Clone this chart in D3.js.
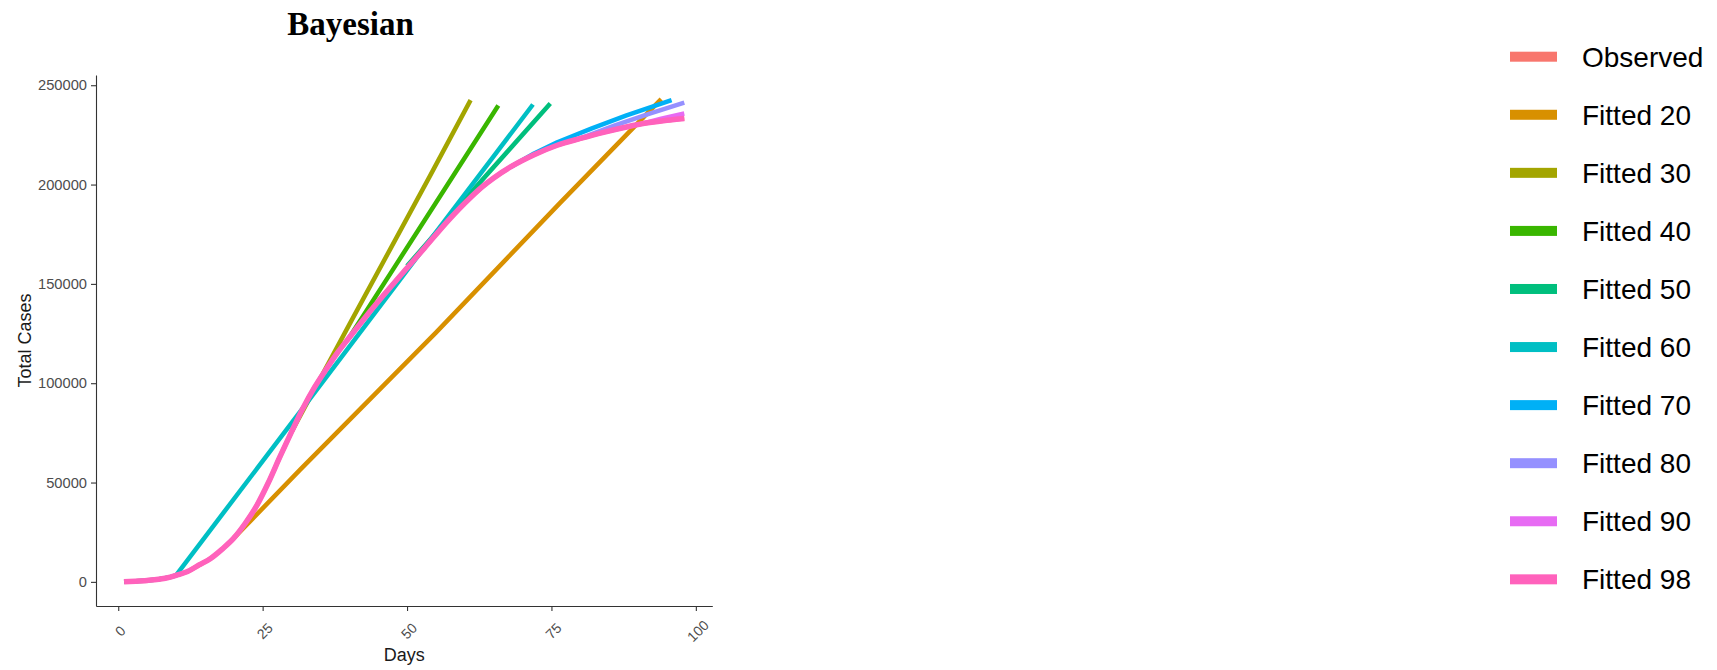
<!DOCTYPE html>
<html>
<head>
<meta charset="utf-8">
<script src="https://cdn.jsdelivr.net/npm/d3@7"></script>
<style>
  html, body { margin: 0; padding: 0; background: #ffffff; }
  svg { display: block; }
</style>
</head>
<body>
<svg id="chart" width="1717" height="670"></svg>
<script>
// Cumulative observed cases by day
const observedDays  = [1, 3, 5, 7, 9, 10, 12, 14, 16, 18, 20, 22, 24, 26, 28, 30, 32, 34, 36, 38, 40, 43, 46, 50, 53, 57, 61, 63, 65, 68, 72, 76, 80, 84, 88, 92, 95, 98];
const observedCases = [0, 300, 700, 1300, 2400, 3300, 5200, 8500, 11800, 16500, 22000, 29500, 38500, 50000, 63000, 75500, 87500, 98000, 107000, 115500, 123000, 134000, 144500, 158000, 168000, 181500, 193500, 198800, 203300, 209000, 215000, 219800, 223200, 226300, 229000, 231200, 232400, 233300];

// Fitted curves, each labelled by the number of days used for the fit
const fitted20Days  = [20, 31.5, 55, 76.5, 94];
const fitted20Cases = [22000, 56500, 125500, 190800, 243000];

const fitted30Days  = [30, 40, 47, 54, 61];
const fitted30Cases = [75500, 129500, 167000, 204500, 242500];

const fitted40Days  = [40, 48, 56, 65.8];
const fitted40Cases = [123000, 159200, 195400, 239800];

const fitted50Days  = [50, 62, 74.8];
const fitted50Cases = [159000, 199000, 240800];

const fitted60Days  = [1, 3, 5, 7, 9, 10, 31.5, 50, 71.8];
const fitted60Cases = [0, 300, 700, 1300, 2400, 3300, 85700, 156800, 240300];

const fitted70Days  = [68, 72, 76, 82, 88, 95.8];
const fitted70Cases = [209000, 215600, 221300, 228300, 234800, 242500];

const fitted80Days  = [80, 86, 92, 98];
const fitted80Cases = [223200, 229800, 235700, 241200];

const fitted90Days  = [90, 94, 98];
const fitted90Cases = [230200, 233200, 235800];

const fitted98Days  = [1, 3, 5, 7, 9, 10, 12, 14, 16, 18, 20, 22, 24, 26, 28, 30, 32, 34, 36, 38, 40, 43, 46, 50, 53, 57, 61, 63, 65, 68, 72, 76, 80, 84, 88, 92, 95, 98];
const fitted98Cases = [0, 300, 700, 1300, 2400, 3300, 5200, 8500, 11800, 16500, 22000, 29500, 38500, 50000, 63000, 75500, 87500, 98000, 107000, 115500, 123000, 134000, 144500, 158000, 168000, 181500, 193500, 198800, 203300, 209000, 215000, 219800, 223200, 226300, 229000, 231200, 232400, 233300];

const seriesNames  = ["Observed", "Fitted 20", "Fitted 30", "Fitted 40", "Fitted 50", "Fitted 60", "Fitted 70", "Fitted 80", "Fitted 90", "Fitted 98"];
const seriesColors = ["#F8766D", "#D89000", "#A3A500", "#39B600", "#00BF7D", "#00BFC4", "#00B0F6", "#9590FF", "#E76BF3", "#FF62BC"];

const xTicks = [0, 25, 50, 75, 100];
const yTicks = [0, 50000, 100000, 150000, 200000, 250000];

const chartTitle = "Bayesian";
const xTitle = "Days";
const yTitle = "Total Cases";

// Assemble series
const seriesDays  = [observedDays, fitted20Days, fitted30Days, fitted40Days, fitted50Days, fitted60Days, fitted70Days, fitted80Days, fitted90Days, fitted98Days];
const seriesCases = [observedCases, fitted20Cases, fitted30Cases, fitted40Cases, fitted50Cases, fitted60Cases, fitted70Cases, fitted80Cases, fitted90Cases, fitted98Cases];
const series = seriesNames.map((name, i) => ({
  name,
  color: seriesColors[i],
  smooth: name === "Observed" || name === "Fitted 98",
  points: seriesDays[i].map((d, j) => ({ day: d, cases: seriesCases[i][j] }))
}));

const svg = d3.select("#chart");

// Panel edges
const panel = { left: 96, right: 712.3, top: 75, bottom: 606 };

// Domains with 5% expansion around the data range
const allPts = series.flatMap(s => s.points);
const xExt = d3.extent(allPts, p => p.day);
const yExt = d3.extent(allPts, p => p.cases);
const xPad = (xExt[1] - xExt[0]) * 0.05;
const yPad = (yExt[1] - yExt[0]) * 0.05;

const x = d3.scaleLinear().domain([xExt[0] - xPad, xExt[1] + xPad]).range([panel.left, panel.right]);
const y = d3.scaleLinear().domain([yExt[0] - yPad, yExt[1] + yPad]).range([panel.bottom, panel.top]);

const fontSans = "'Liberation Sans', Arial, Helvetica, sans-serif";

// Lines: observed-style curves are smoothed, projections drawn as straight segments
const smoothLine = d3.line().x(p => x(p.day)).y(p => y(p.cases)).curve(d3.curveMonotoneX);
const straightLine = d3.line().x(p => x(p.day)).y(p => y(p.cases));
svg.append("g").selectAll("path")
  .data(series)
  .join("path")
  .attr("d", s => (s.smooth ? smoothLine : straightLine)(s.points))
  .attr("fill", "none")
  .attr("stroke", s => s.color)
  .attr("stroke-width", s => s.name === "Fitted 98" ? 5.5 : 4.5)
  .attr("stroke-linejoin", "round");

// Y axis
const yAxis = svg.append("g")
  .attr("transform", `translate(${panel.left},0)`)
  .call(d3.axisLeft(y).tickValues(yTicks).tickFormat(d3.format("d")).tickSize(5).tickSizeOuter(0).tickPadding(4));
yAxis.select(".domain").attr("stroke", "#333333").attr("stroke-width", 1.1);
yAxis.selectAll(".tick line").attr("stroke", "#333333").attr("stroke-width", 1.1);
yAxis.selectAll(".tick text")
  .attr("fill", "#4D4D4D")
  .style("font-family", fontSans)
  .style("font-size", "14.7px");

// X axis
const xAxis = svg.append("g")
  .attr("transform", `translate(0,${panel.bottom})`)
  .call(d3.axisBottom(x).tickValues(xTicks).tickFormat(d3.format("d")).tickSize(5).tickSizeOuter(0).tickPadding(4));
xAxis.select(".domain").attr("stroke", "#333333").attr("stroke-width", 1.1);
xAxis.selectAll(".tick line").attr("stroke", "#333333").attr("stroke-width", 1.1);
xAxis.selectAll(".tick text")
  .attr("fill", "#4D4D4D")
  .style("font-family", fontSans)
  .style("font-size", "14px")
  .attr("text-anchor", "middle")
  .attr("dy", null)
  .attr("y", 0)
  .attr("transform", "translate(1.5,25) rotate(-45)")
  .attr("dominant-baseline", "central");

// Axis titles
svg.append("text")
  .attr("x", (panel.left + panel.right) / 2)
  .attr("y", 661)
  .attr("text-anchor", "middle")
  .style("font-family", fontSans)
  .style("font-size", "18px")
  .attr("fill", "#1a1a1a")
  .text(xTitle);

svg.append("text")
  .attr("transform", `translate(31,${(panel.top + panel.bottom) / 2}) rotate(-90)`)
  .attr("text-anchor", "middle")
  .style("font-family", fontSans)
  .style("font-size", "18px")
  .attr("fill", "#1a1a1a")
  .text(yTitle);

// Title
svg.append("text")
  .attr("x", 350.5)
  .attr("y", 35)
  .attr("text-anchor", "middle")
  .style("font-family", "'Liberation Serif', 'Times New Roman', serif")
  .style("font-weight", "bold")
  .style("font-size", "33px")
  .attr("fill", "#000000")
  .text(chartTitle);

// Legend
const legend = svg.append("g").attr("transform", "translate(1510,56.7)");
const rows = legend.selectAll("g")
  .data(series)
  .join("g")
  .attr("transform", (s, i) => `translate(0,${i * 58.07})`);
rows.append("rect")
  .attr("x", 0)
  .attr("y", -5)
  .attr("width", 47)
  .attr("height", 10)
  .attr("fill", s => s.color);
rows.append("text")
  .attr("x", 72)
  .attr("y", 10)
  .style("font-family", fontSans)
  .style("font-size", "28px")
  .attr("fill", "#000000")
  .text(s => s.name);
</script>
</body>
</html>
